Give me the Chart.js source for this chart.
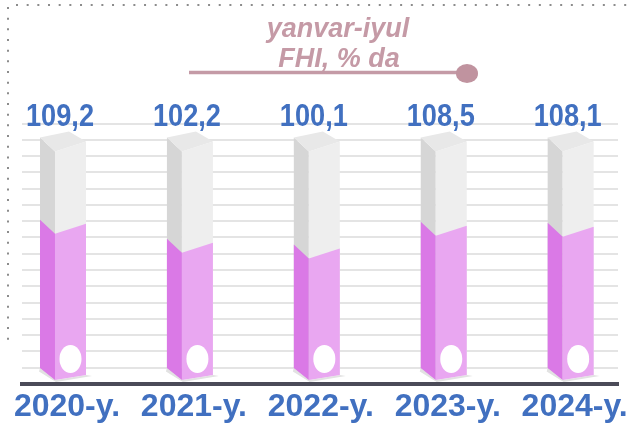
<!DOCTYPE html>
<html><head><meta charset="utf-8">
<script src="https://cdn.jsdelivr.net/npm/chart.js@4.4.1/dist/chart.umd.min.js"></script>
<style>html,body{margin:0;padding:0;background:#fff;}#wrap{width:632px;height:424px;position:relative;}</style>
</head><body><div id="wrap"><canvas id="c"></canvas></div>
<script>
const categories = ['2020-y.', '2021-y.', '2022-y.', '2023-y.', '2024-y.'];
const values = [109.2, 102.2, 100.1, 108.5, 108.1];
const valueLabels = ['109,2', '102,2', '100,1', '108,5', '108,1'];
const trackValues = [139.5, 139.5, 139.5, 139.5, 139.5];
const titleLines = ['yanvar-iyul', 'FHI, % da'];

const BLUE = '#4170c0';
const MAUVE = '#c59aa6';

function poly(ctx, pts, color) {
  ctx.beginPath();
  ctx.moveTo(pts[0][0], pts[0][1]);
  for (let i = 1; i < pts.length; i++) ctx.lineTo(pts[i][0], pts[i][1]);
  ctx.closePath();
  ctx.fillStyle = color;
  ctx.fill();
}

const decor = {
  id: 'decor',
  beforeDraw(chart) {
    const ctx = chart.ctx;
    ctx.save();
    ctx.strokeStyle = '#8c8c8c';
    ctx.lineWidth = 2;
    ctx.setLineDash([2, 8.67]);
    ctx.beginPath();
    ctx.moveTo(16, 5); ctx.lineTo(630, 5);
    ctx.moveTo(8, 7); ctx.lineTo(8, 342);
    ctx.stroke();
    ctx.restore();
  },
  afterDatasetsDraw(chart) {
    const ctx = chart.ctx;
    const tMeta = chart.getDatasetMeta(0);
    const vMeta = chart.getDatasetMeta(1);
    const B = chart.chartArea.bottom - 6.5;
    ctx.save();
    tMeta.data.forEach((el, i) => {
      const cx = el.x, Lt = el.y, Lv = vMeta.data[i].y;
      const sx0 = cx - 23, fx0 = cx - 8, fx1 = cx + 23;
      // shadow
      poly(ctx, [[sx0, B - 9.5], [fx0, B + 2.5], [fx1, B - 2.5], [fx1 + 6, B - 1.5], [fx0 + 1, B + 4.5], [sx0 - 1, B - 6]], '#e2e2e2');
      // track
      poly(ctx, [[sx0, Lt - 9], [fx0, Lt + 5], [fx0, B + 2.5], [sx0, B - 9.5]], '#d6d6d6');
      poly(ctx, [[fx0, Lt + 5], [fx1, Lt - 5], [fx1, B - 2.5], [fx0, B + 2.5]], '#eeeeee');
      poly(ctx, [[sx0, Lt - 9], [cx + 6, Lt - 15], [fx1, Lt - 5], [fx0, Lt + 5]], '#e8e8e8');
      // value fill
      poly(ctx, [[sx0, Lv - 9], [fx0, Lv + 5], [fx0, B + 2.5], [sx0, B - 9.5]], '#da79e6');
      poly(ctx, [[fx0, Lv + 5], [fx1, Lv - 5], [fx1, B - 2.5], [fx0, B + 2.5]], '#e9a7f1');
      // white bulb
      ctx.beginPath();
      ctx.ellipse(cx + 7.5, B - 18.5, 11, 14, 0, 0, Math.PI * 2);
      ctx.fillStyle = '#ffffff';
      ctx.fill();
      // value label
      ctx.save();
      ctx.font = 'bold 32px "Liberation Sans", Arial, sans-serif';
      ctx.fillStyle = BLUE;
      ctx.textAlign = 'center';
      ctx.textBaseline = 'alphabetic';
      ctx.translate(cx - 3, 126);
      ctx.scale(0.85, 1);
      ctx.fillText(valueLabels[i], 0, 0);
      ctx.restore();
    });
    ctx.restore();
  },
  afterDraw(chart) {
    const ctx = chart.ctx;
    ctx.save();
    ctx.font = 'italic bold 27px "Liberation Sans", Arial, sans-serif';
    ctx.fillStyle = MAUVE;
    ctx.textAlign = 'center';
    ctx.textBaseline = 'alphabetic';
    ctx.fillText(titleLines[0], 338, 37);
    ctx.fillText(titleLines[1], 339, 67);
    ctx.strokeStyle = '#c49aa6';
    ctx.lineWidth = 3.5;
    ctx.beginPath();
    ctx.moveTo(189, 72.5); ctx.lineTo(462, 72.5);
    ctx.stroke();
    ctx.beginPath();
    ctx.ellipse(467, 73.5, 11, 9.5, 0, 0, Math.PI * 2);
    ctx.fillStyle = '#c0939f';
    ctx.fill();
    ctx.restore();
  }
};

new Chart(document.getElementById('c'), {
  type: 'bar',
  data: {
    datasets: [
      { label: 'track', data: trackValues.map((v, i) => ({ x: i, y: v })), backgroundColor: 'rgba(0,0,0,0)', borderWidth: 0, grouped: false },
      { label: 'FHI', data: values.map((v, i) => ({ x: i, y: v })), backgroundColor: 'rgba(0,0,0,0)', borderWidth: 0, grouped: false }
    ]
  },
  options: {
    responsive: true,
    maintainAspectRatio: false,
    animation: false,
    devicePixelRatio: 1,
    layout: { padding: { top: 123.5, left: 22, right: 14, bottom: 0 } },
    plugins: { legend: { display: false }, title: { display: false }, tooltip: { enabled: false } },
    scales: {
      x: {
        type: 'linear',
        min: -0.323,
        max: 4.373,
        offset: false,
        grid: { display: false, drawTicks: false },
        border: { display: true, color: '#4b4b58', width: 4 },
        afterBuildTicks(scale) { scale.ticks = categories.map((_, i) => ({ value: i })); },
        afterFit(scale) { scale.height = 40; },
        ticks: {
          autoSkip: false,
          maxRotation: 0,
          padding: 4,
          labelOffset: 4,
          color: BLUE,
          font: { family: '"Liberation Sans", Arial, sans-serif', size: 32, weight: 'bold' },
          callback: (v) => categories[v]
        }
      },
      y: {
        type: 'linear',
        min: 52,
        max: 148,
        afterFit(scale) { scale.width = 0; },
        ticks: { display: false, stepSize: 6 },
        border: { display: false },
        grid: { color: '#e4e4e4', lineWidth: 2, drawTicks: false }
      }
    }
  },
  plugins: [decor]
});
</script>
</body></html>
